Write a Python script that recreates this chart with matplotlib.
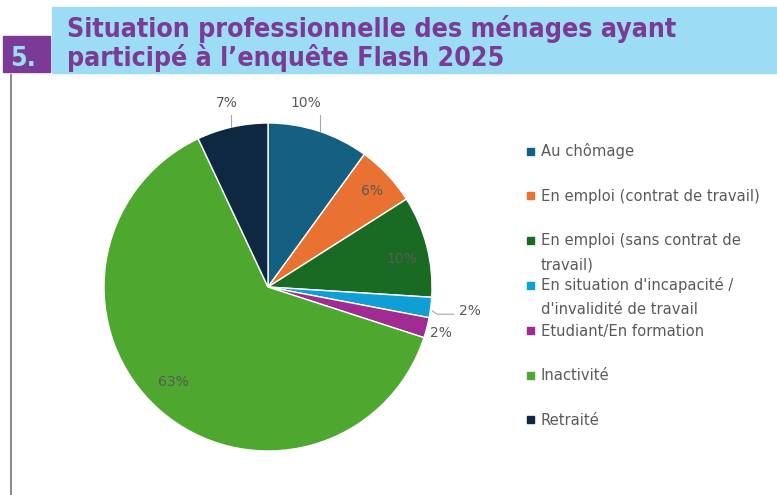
import numpy as np
import matplotlib.pyplot as plt
from matplotlib.patches import Rectangle

# data
categories = ['Au chômage',
              'En emploi (contrat de travail)',
              'En emploi (sans contrat de\ntravail)',
              "En situation d'incapacité /\nd'invalidité de travail",
              'Etudiant/En formation',
              'Inactivité',
              'Retraité']
values = [10, 6, 10, 2, 2, 63, 7]
colors = ['#156082', '#E97132', '#196B24', '#0F9ED5', '#A02B93', '#4EA72E', '#0E2841']
pct_labels = [f'{v}%' for v in values]

title_lines = ['Situation professionnelle des ménages ayant',
               'participé à l\u2019enquête Flash 2025']

W, H = 777, 495
fig = plt.figure(figsize=(W / 100, H / 100), dpi=100, facecolor='white')

def px(x, y):
    # pixel coords (top-left origin) -> figure fraction
    return x / W, 1 - y / H

purple = '#7B3A96'
light_blue = '#9DDCF5'
title_kw = dict(family='DejaVu Sans', stretch='condensed', weight='bold',
                fontsize=19.2, va='baseline')

# header band + number box
fig.add_artist(Rectangle(px(52, 73), (W - 52) / W, 66 / H,
                         transform=fig.transFigure, color=light_blue, zorder=0))
fig.add_artist(Rectangle(px(3, 72), 47 / W, 36 / H,
                         transform=fig.transFigure, color=purple, zorder=0))
fig.text(*px(10, 66), '5.', color=light_blue, **title_kw)
fig.text(*px(67, 37), title_lines[0], color=purple, **title_kw)
fig.text(*px(67, 66), title_lines[1], color=purple, **title_kw)

# left rule
fig.add_artist(plt.Line2D([11 / W, 11 / W], [0, 1 - 75 / H],
                          transform=fig.transFigure, color='#8C8C8C', lw=1.5))

# pie
cx, cy, r = 268, 287, 164
half = 1.2 * r
ax = fig.add_axes([(cx - half) / W, (H - cy - half) / H, 2 * half / W, 2 * half / H])
wedges, _ = ax.pie(values, colors=colors, startangle=90, counterclock=False,
                   wedgeprops=dict(edgecolor='white', linewidth=1.0))
ax.set_xlim(-1.2, 1.2)
ax.set_ylim(-1.2, 1.2)
ax.set_aspect('equal')
ax.axis('off')

# data labels (Excel "best fit" positions)
label_pos = [(0.232, 1.122), (0.634, 0.585), (0.817, 0.171), (1.232, -0.146),
             (1.055, -0.280), (-0.579, -0.579), (-0.25, 1.122)]
for w, txt, (lx, ly) in zip(wedges, pct_labels, label_pos):
    ax.text(lx, ly, txt, ha='center', va='center', fontsize=10, color='#595959')

# leader lines
lead = '#A6A6A6'
w = wedges[3]
mid = np.deg2rad((w.theta1 + w.theta2) / 2)
lx, ly = label_pos[3]
ax.plot([np.cos(mid) * 1.01, lx - 0.2, lx - 0.1],
        [np.sin(mid) * 1.01 - 0.02, ly - 0.02, ly - 0.02],
        color=lead, lw=0.8, clip_on=False)
for i, dx in [(0, 0.085), (6, 0.024)]:
    lx, ly = label_pos[i]
    x = lx + dx
    ax.plot([x, x], [ly - 0.073, np.sqrt(1 - x ** 2)], color=lead, lw=0.8)

# legend drawn by hand so markers sit on the first line
for i, (lab, col) in enumerate(zip(categories, colors)):
    y = 151 + 44.8 * i
    nlines = lab.count('\n') + 1
    fig.add_artist(Rectangle(px(527, y + 3.5), 7 / W, 7 / H,
                             transform=fig.transFigure, color=col))
    fig.text(*px(541, y + 5.5 + 23 * (nlines - 1)), lab, fontsize=10.6,
             color='#595959', va='baseline', ha='left', linespacing=1.75)

plt.savefig('out.png', dpi=100)
